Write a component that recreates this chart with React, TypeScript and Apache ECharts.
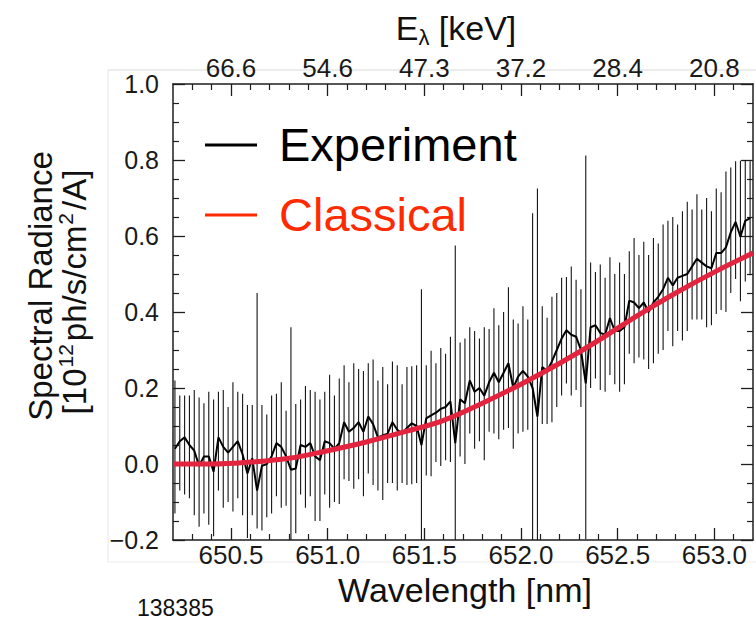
import React, { useEffect, useRef } from "react";
import * as echarts from "echarts";

const FONT = "'Liberation Sans', Arial, Helvetica, sans-serif";

// Wavelength samples [nm]
const wavelength = [
  650.21, 650.235, 650.26, 650.285, 650.31, 650.335, 650.36, 650.385, 650.41, 650.435,
  650.46, 650.485, 650.51, 650.535, 650.56, 650.585, 650.61, 650.635, 650.66, 650.685,
  650.71, 650.735, 650.76, 650.785, 650.81, 650.835, 650.86, 650.885, 650.91, 650.935,
  650.96, 650.985, 651.01, 651.035, 651.06, 651.085, 651.11, 651.135, 651.16, 651.185,
  651.21, 651.235, 651.26, 651.285, 651.31, 651.335, 651.36, 651.385, 651.41, 651.435,
  651.46, 651.485, 651.51, 651.535, 651.56, 651.585, 651.61, 651.635, 651.66, 651.685,
  651.71, 651.735, 651.76, 651.785, 651.81, 651.835, 651.86, 651.885, 651.91, 651.935,
  651.96, 651.985, 652.01, 652.035, 652.06, 652.085, 652.11, 652.135, 652.16, 652.185,
  652.21, 652.235, 652.26, 652.285, 652.31, 652.335, 652.36, 652.385, 652.41, 652.435,
  652.46, 652.485, 652.51, 652.535, 652.56, 652.585, 652.61, 652.635, 652.66, 652.685,
  652.71, 652.735, 652.76, 652.785, 652.81, 652.835, 652.86, 652.885, 652.91, 652.935,
  652.96, 652.985, 653.01, 653.035, 653.06, 653.085, 653.11, 653.135, 653.16, 653.185,
];

// Experiment spectral radiance [1e12 ph/s/cm2/A]
const experiment = [
  0.04, 0.06, 0.07, 0.05, 0.035, -0.005, 0.02, 0.02, -0.02, 0.07,
  0.045, 0.03, 0.045, 0.06, 0.025, -0.025, 0.015, -0.07, -0.005, 0.0,
  0.02, 0.055, 0.045, 0.02, -0.015, -0.012, 0.05, 0.045, 0.055, 0.02,
  0.01, 0.06, 0.055, 0.04, 0.055, 0.11, 0.085, 0.095, 0.11, 0.085,
  0.125, 0.105, 0.07, 0.075, 0.08, 0.11, 0.09, 0.08, 0.095, 0.107,
  0.1, 0.05, 0.12, 0.128, 0.135, 0.145, 0.15, 0.165, 0.055, 0.17,
  0.16, 0.22, 0.19, 0.2, 0.18, 0.215, 0.24, 0.215, 0.24, 0.265,
  0.2, 0.23, 0.245, 0.23, 0.2, 0.125, 0.255, 0.245, 0.27, 0.3,
  0.33, 0.352, 0.34, 0.335, 0.3, 0.212, 0.36, 0.365, 0.345, 0.34,
  0.384, 0.35, 0.35, 0.36, 0.43, 0.425, 0.41, 0.425, 0.4, 0.425,
  0.44, 0.46, 0.49, 0.47, 0.49, 0.495, 0.5, 0.52, 0.54, 0.53,
  0.52, 0.515, 0.555, 0.555, 0.57, 0.61, 0.637, 0.598, 0.64, 0.647,
];

// Upper / lower error of each experimental point
const errUp = [
  0.18, 0.12, 0.11, 0.13, 0.16, 0.18, 0.14, 0.17, 0.19, 0.12,
  0.15, 0.12, 0.17, 0.13, 0.16, 0.18, 0.14, 0.52, 0.16, 0.13,
  0.16, 0.13, 0.17, 0.12, 0.375, 0.17, 0.12, 0.16, 0.14, 0.17,
  0.16, 0.13, 0.18, 0.14, 0.17, 0.15, 0.13, 0.17, 0.14, 0.16,
  0.14, 0.17, 0.15, 0.18, 0.13, 0.16, 0.17, 0.13, 0.16, 0.15,
  0.16, 0.41, 0.14, 0.17, 0.13, 0.16, 0.14, 0.17, 0.52, 0.15,
  0.17, 0.14, 0.16, 0.13, 0.18, 0.14, 0.17, 0.15, 0.16, 0.2,
  0.18, 0.14, 0.17, 0.15, 0.46, 0.6, 0.16, 0.14, 0.17, 0.15,
  0.16, 0.14, 0.18, 0.15, 0.16, 0.6, 0.17, 0.14, 0.18, 0.15,
  0.16, 0.15, 0.18, 0.14, 0.13, 0.17, 0.14, 0.16, 0.15, 0.17,
  0.14, 0.17, 0.15, 0.18, 0.14, 0.17, 0.19, 0.15, 0.17, 0.14,
  0.18, 0.15, 0.17, 0.16, 0.2, 0.17, 0.16, 0.2, 0.16, 0.15,
];
const errDown = [
  0.17, 0.13, 0.15, 0.14, 0.17, 0.16, 0.15, 0.18, 0.17, 0.14,
  0.16, 0.13, 0.17, 0.15, 0.16, 0.17, 0.15, 0.1, 0.17, 0.14,
  0.15, 0.14, 0.16, 0.13, 0.185, 0.17, 0.13, 0.16, 0.14, 0.17,
  0.16, 0.14, 0.17, 0.14, 0.16, 0.15, 0.13, 0.16, 0.15, 0.17,
  0.15, 0.16, 0.14, 0.17, 0.13, 0.16, 0.16, 0.13, 0.15, 0.16,
  0.15, 0.25, 0.15, 0.16, 0.13, 0.15, 0.14, 0.16, 0.255, 0.15,
  0.16, 0.14, 0.15, 0.14, 0.17, 0.13, 0.16, 0.15, 0.15, 0.17,
  0.16, 0.15, 0.16, 0.14, 0.4, 0.325, 0.15, 0.14, 0.16, 0.15,
  0.15, 0.14, 0.16, 0.14, 0.15, 0.41, 0.16, 0.14, 0.15, 0.15,
  0.15, 0.14, 0.16, 0.15, 0.14, 0.16, 0.13, 0.15, 0.15, 0.16,
  0.15, 0.16, 0.14, 0.16, 0.14, 0.17, 0.15, 0.14, 0.16, 0.15,
  0.16, 0.15, 0.16, 0.15, 0.17, 0.16, 0.15, 0.17, 0.16, 0.15,
];

// Classical model curve
const classicalWavelength = [650.2, 650.4, 650.6, 650.8, 651.0, 651.2, 651.4, 651.6, 651.8, 652.0, 652.2, 652.4, 652.6, 652.8, 653.0, 653.2];
const classical = [0.0, 0.0, 0.005, 0.015, 0.035, 0.058, 0.085, 0.115, 0.16, 0.21, 0.265, 0.325, 0.39, 0.45, 0.505, 0.555];

// Axis ticks
const majorTicks = [650.5, 651.0, 651.5, 652.0, 652.5, 653.0];
const minorTicks = [650.3, 650.4, 650.6, 650.7, 650.8, 650.9, 651.1, 651.2, 651.3, 651.4, 651.6, 651.7, 651.8, 651.9, 652.1, 652.2, 652.3, 652.4, 652.6, 652.7, 652.8, 652.9, 653.1];
const energyLabels = ["66.6", "54.6", "47.3", "37.2", "28.4", "20.8"];

const AX = "#1e1e1e";

export default function App() {
  const ref = useRef<HTMLDivElement>(null);
  useEffect(() => {
    if (!ref.current) return;
    const chart = echarts.init(ref.current, undefined, { renderer: "svg" });

    const bars = wavelength.map((w, i) => [w, experiment[i] - errDown[i], experiment[i] + errUp[i]]);
    const line = wavelength.map((w, i) => [w, experiment[i]]);
    const model = classicalWavelength.map((w, i) => [w, classical[i]]);

    const baseX = {
      type: "value",
      min: 650.2,
      max: 653.2,
      gridIndex: 0,
      splitLine: { show: false },
    };
    const yFmt = (v: number) => {
      const s = Math.abs(v).toFixed(1);
      return v < -1e-9 ? "\u2212" + s : s;
    };
    const baseY = {
      type: "value",
      min: -0.2,
      max: 1.0,
      interval: 0.2,
      splitLine: { show: false },
      minorSplitLine: { show: false },
      axisLine: { show: true, onZero: false, lineStyle: { color: AX, width: 1.5 } },
      axisTick: { show: true, inside: true, length: 12, lineStyle: { color: AX, width: 1.3 } },
      minorTick: { show: true, splitNumber: 4, length: 6, lineStyle: { color: AX, width: 1.2 } },
    };

    const option: any = {
      animation: false,
      backgroundColor: "#ffffff",
      grid: { left: 173, right: 3, top: 84, bottom: 80, containLabel: false },
      xAxis: [
        {
          ...baseX,
          position: "bottom",
          axisLine: { show: true, onZero: false, lineStyle: { color: AX, width: 1.5 } },
          axisTick: { show: true, inside: true, length: 12, customValues: majorTicks, lineStyle: { color: AX, width: 1.3 } },
          axisLabel: {
            show: true,
            customValues: majorTicks,
            formatter: (v: number) => v.toFixed(1),
            fontSize: 26,
            lineHeight: 26,
            fontFamily: FONT,
            color: "#1a1a1a",
            margin: 2,
          },
        },
        {
          ...baseX,
          position: "bottom",
          axisLine: { show: false, onZero: false },
          axisTick: { show: true, inside: true, length: 6, customValues: minorTicks, lineStyle: { color: AX, width: 1.2 } },
          axisLabel: { show: false },
        },
        {
          ...baseX,
          position: "top",
          axisLine: { show: true, onZero: false, lineStyle: { color: AX, width: 1.5 } },
          axisTick: { show: true, inside: true, length: 12, customValues: majorTicks, lineStyle: { color: AX, width: 1.3 } },
          axisLabel: {
            show: true,
            customValues: majorTicks,
            formatter: (v: number) => {
              const k = majorTicks.findIndex((t) => Math.abs(t - v) < 1e-6);
              return k >= 0 ? energyLabels[k] : "";
            },
            fontSize: 26,
            lineHeight: 26,
            fontFamily: FONT,
            color: "#1a1a1a",
            margin: 3,
          },
        },
        {
          ...baseX,
          position: "top",
          axisLine: { show: false, onZero: false },
          axisTick: { show: true, inside: true, length: 6, customValues: minorTicks, lineStyle: { color: AX, width: 1.2 } },
          axisLabel: { show: false },
        },
      ],
      yAxis: [
        {
          ...baseY,
          position: "left",
          axisLabel: { show: true, formatter: yFmt, fontSize: 25, fontFamily: FONT, color: "#1a1a1a", margin: 14 },
        },
        {
          ...baseY,
          position: "right",
          axisLabel: { show: false },
        },
      ],
      series: [
        {
          type: "custom",
          name: "errorbars",
          xAxisIndex: 0,
          yAxisIndex: 0,
          clip: true,
          z: 2,
          data: bars,
          encode: { x: 0, y: [1, 2] },
          renderItem: (params: any, api: any) => {
            const x = api.value(0);
            const p1 = api.coord([x, api.value(1)]);
            const p2 = api.coord([x, api.value(2)]);
            return {
              type: "line",
              shape: { x1: p1[0], y1: p1[1], x2: p2[0], y2: p2[1] },
              style: { stroke: "#151515", lineWidth: 1.1 },
            };
          },
        },
        {
          type: "line",
          name: "Experiment",
          xAxisIndex: 0,
          yAxisIndex: 0,
          data: line,
          symbol: "none",
          z: 3,
          clip: true,
          lineStyle: { color: "#000000", width: 2 },
        },
        {
          type: "line",
          name: "Classical",
          xAxisIndex: 0,
          yAxisIndex: 0,
          data: model,
          symbol: "none",
          smooth: 0.4,
          z: 4,
          clip: true,
          lineStyle: { color: "#e3243f", width: 5 },
        },
      ],
      graphic: [
        // faint slide frame lines
        { type: "line", shape: { x1: 108, y1: 70, x2: 756, y2: 70 }, style: { stroke: "#d9d9d9", lineWidth: 1 }, z: -1 },
        { type: "line", shape: { x1: 108, y1: 562, x2: 756, y2: 562 }, style: { stroke: "#ebebeb", lineWidth: 1 }, z: -1 },
        { type: "line", shape: { x1: 108, y1: 70, x2: 108, y2: 562 }, style: { stroke: "#e6e6e6", lineWidth: 1 }, z: -1 },
        {
          type: "text",
          x: 456,
          y: 28,
          style: {
            text: "{e|E}{s|\u03bb}{e| [keV]}",
            align: "center",
            verticalAlign: "middle",
            rich: {
              e: { fontSize: 34, fontFamily: FONT, fill: "#111", lineHeight: 40 },
              s: { fontSize: 22, fontFamily: FONT, fill: "#111", lineHeight: 22, verticalAlign: "bottom" },
            },
          },
        },
        {
          type: "text",
          x: 40,
          y: 286,
          rotation: Math.PI / 2,
          style: { text: "Spectral Radiance", fontSize: 33, fontFamily: FONT, fill: "#111", align: "center", verticalAlign: "middle" },
        },
        {
          type: "text",
          x: 74,
          y: 292,
          rotation: Math.PI / 2,
          style: {
            text: "{n|[10}{p|12}{n|ph/s/cm}{p|2}{n|/A]}",
            align: "center",
            verticalAlign: "middle",
            rich: {
              n: { fontSize: 33, fontFamily: FONT, fill: "#111", lineHeight: 38 },
              p: { fontSize: 21, fontFamily: FONT, fill: "#111", lineHeight: 21, verticalAlign: "top", padding: [0, 3, 0, 1] },
            },
          },
        },
        {
          type: "text",
          x: 465,
          y: 590,
          style: { text: "Wavelength [nm]", fontSize: 34, lineHeight: 34, fontFamily: FONT, fill: "#111", align: "center", verticalAlign: "middle" },
        },
        {
          type: "text",
          x: 137,
          y: 608,
          style: { text: "138385", fontSize: 23, lineHeight: 23, fontFamily: FONT, fill: "#111", align: "left", verticalAlign: "middle" },
        },
        // legend
        { type: "line", shape: { x1: 205, y1: 145, x2: 257, y2: 145 }, style: { stroke: "#000", lineWidth: 3 }, z: 10 },
        {
          type: "text",
          x: 279,
          y: 144,
          z: 10,
          style: { text: "Experiment", fontSize: 47, fontFamily: FONT, fill: "#000", align: "left", verticalAlign: "middle" },
        },
        { type: "line", shape: { x1: 205, y1: 215, x2: 257, y2: 215 }, style: { stroke: "#ff2a00", lineWidth: 3 }, z: 10 },
        {
          type: "text",
          x: 279,
          y: 214,
          z: 10,
          style: { text: "Classical", fontSize: 47, fontFamily: FONT, fill: "#ff2a00", align: "left", verticalAlign: "middle" },
        },
      ],
    };

    chart.setOption(option);
    return () => chart.dispose();
  }, []);

  return (
    <div
      ref={ref}
      style={{ position: "fixed", left: 0, top: 0, width: 756, height: 620, background: "#fff" }}
    />
  );
}
